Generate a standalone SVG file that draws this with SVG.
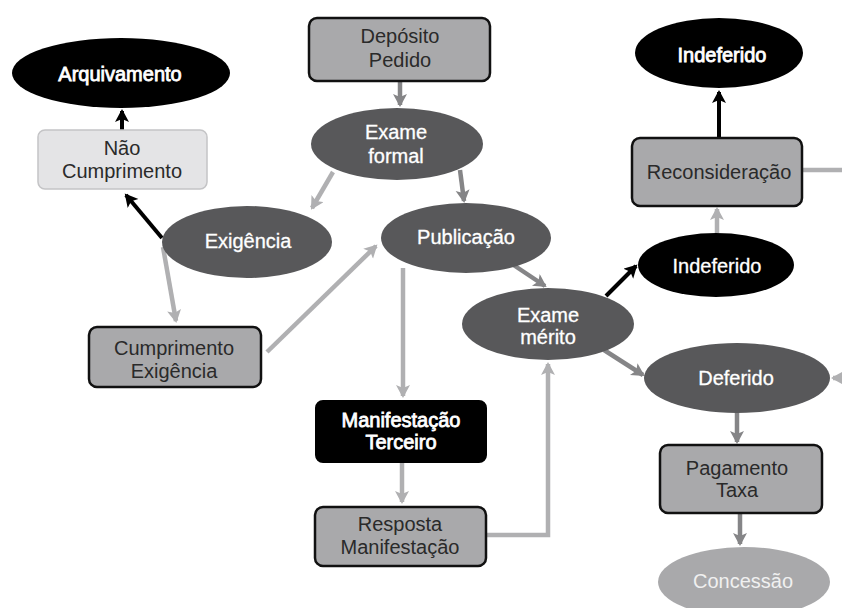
<svg xmlns="http://www.w3.org/2000/svg" width="842" height="608" viewBox="0 0 842 608">
<defs>
<style>
text{font-family:"Liberation Sans",Arial,sans-serif;font-size:20px;text-anchor:middle}
.dark{fill:#58585a}
.black{fill:#000}
.box{fill:#a9a9ab;stroke:#111;stroke-width:2.5}
.lbox{fill:#e4e4e6;stroke:#c4c4c6;stroke-width:1.5}
.bbox{fill:#000;stroke:#000;stroke-width:2}
.wt{fill:#fff;stroke:#fff;stroke-width:0.3}
.wb{fill:#fff;stroke:#fff;stroke-width:0.8}
.dt{fill:#2a2a2a}
.ct{fill:#f0f0f0}
.mid{stroke:#858587;stroke-width:4.5;fill:none}
.lt{stroke:#b0b0b2;stroke-width:4.5;fill:none}
.bk{stroke:#000;stroke-width:4;fill:none}
</style>
<marker id="hm" markerUnits="userSpaceOnUse" markerWidth="16" markerHeight="16" refX="11" refY="7" orient="auto"><path d="M0,0 L13,7 L0,14 L3,7 z" fill="#858587"/></marker>
<marker id="hl" markerUnits="userSpaceOnUse" markerWidth="16" markerHeight="16" refX="11" refY="7" orient="auto"><path d="M0,0 L13,7 L0,14 L3,7 z" fill="#b0b0b2"/></marker>
<marker id="hb" markerUnits="userSpaceOnUse" markerWidth="16" markerHeight="16" refX="11" refY="7" orient="auto"><path d="M0,0 L13,7 L0,14 L3,7 z" fill="#000"/></marker>
</defs>
<rect width="842" height="608" fill="#fff"/>
<g id="connectors">
<path class="mid" d="M400,81 L400,105" marker-end="url(#hm)"/>
<path class="lt" d="M333,172 L312,208" marker-end="url(#hl)"/>
<path class="mid" d="M460,170 L464,201" marker-end="url(#hm)"/>
<path class="bk" d="M162,238 L126,195" marker-end="url(#hb)"/>
<path class="bk" d="M122,130 L122,111" marker-end="url(#hb)"/>
<path class="lt" d="M163,247 L176,321" marker-end="url(#hl)"/>
<path class="lt" d="M267,352 L376,246" marker-end="url(#hl)"/>
<path class="lt" d="M403,268 L403,396" marker-end="url(#hl)"/>
<path class="lt" d="M402,462 L402,502" marker-end="url(#hl)"/>
<path class="lt" d="M486,535 L548,535 L548,364" marker-end="url(#hl)"/>
<path class="mid" d="M512,264 L545,286" marker-end="url(#hm)"/>
<path class="bk" d="M606,296 L636,266" marker-end="url(#hb)"/>
<path class="lt" d="M717,233 L717,209" marker-end="url(#hl)"/>
<path class="bk" d="M719,138 L719,92" marker-end="url(#hb)"/>
<path class="lt" d="M802,170 L842,170"/>
<path class="mid" d="M604,350 L643,375" marker-end="url(#hm)"/>
<path class="lt" d="M850,378 L833,378" marker-end="url(#hl)"/>
<path class="mid" d="M737,412 L737,442" marker-end="url(#hm)"/>
<path class="mid" d="M740,513 L740,544" marker-end="url(#hm)"/>
</g>
<g id="arquivamento"><ellipse class="black" cx="121" cy="73" rx="109" ry="35"/><text class="wb" x="120" y="81">Arquivamento</text></g>
<g id="nao-cumprimento"><rect class="lbox" x="38" y="130" width="169" height="59" rx="7"/><text class="dt" x="122" y="155">Não</text><text class="dt" x="122" y="178">Cumprimento</text></g>
<g id="deposito"><rect class="box" x="309" y="18" width="181" height="63" rx="8"/><text class="dt" x="400" y="43">Depósito</text><text class="dt" x="400" y="67">Pedido</text></g>
<g id="exame-formal"><ellipse class="dark" cx="397" cy="144" rx="86" ry="36"/><text class="wt" x="396" y="139">Exame</text><text class="wt" x="396" y="163">formal</text></g>
<g id="exigencia"><ellipse class="dark" cx="247" cy="242" rx="85" ry="36"/><text class="wt" x="248" y="248">Exigência</text></g>
<g id="publicacao"><ellipse class="dark" cx="466" cy="238" rx="85" ry="35"/><text class="wt" x="466" y="244">Publicação</text></g>
<g id="cumprimento-exigencia"><rect class="box" x="89" y="327" width="172" height="60" rx="8"/><text class="dt" x="174" y="355">Cumprimento</text><text class="dt" x="174" y="378">Exigência</text></g>
<g id="manifestacao-terceiro"><rect class="bbox" x="316" y="401" width="170" height="61" rx="7"/><text class="wb" x="401" y="427">Manifestação</text><text class="wb" x="401" y="449">Terceiro</text></g>
<g id="resposta-manifestacao"><rect class="box" x="315" y="507" width="171" height="59" rx="8"/><text class="dt" x="400" y="531">Resposta</text><text class="dt" x="400" y="554">Manifestação</text></g>
<g id="exame-merito"><ellipse class="dark" cx="548" cy="324" rx="86" ry="36"/><text class="wt" x="548" y="322">Exame</text><text class="wt" x="548" y="344">mérito</text></g>
<g id="indeferido-top"><ellipse class="black" cx="719" cy="53" rx="84" ry="35"/><text class="wb" x="722" y="62">Indeferido</text></g>
<g id="reconsideracao"><rect class="box" x="632" y="138" width="170" height="68" rx="8"/><text class="dt" x="719" y="179">Reconsideração</text></g>
<g id="indeferido"><ellipse class="black" cx="716" cy="265" rx="78" ry="32"/><text class="wt" x="717" y="273">Indeferido</text></g>
<g id="deferido"><ellipse class="dark" cx="737" cy="378" rx="93" ry="35"/><text class="wt" x="736" y="385">Deferido</text></g>
<g id="pagamento-taxa"><rect class="box" x="660" y="445" width="162" height="68" rx="8"/><text class="dt" x="737" y="475">Pagamento</text><text class="dt" x="737" y="497">Taxa</text></g>
<g id="concessao"><ellipse fill="#a9a9ab" cx="744" cy="582" rx="86" ry="35"/><text class="ct" x="743" y="588">Concessão</text></g>
</svg>
